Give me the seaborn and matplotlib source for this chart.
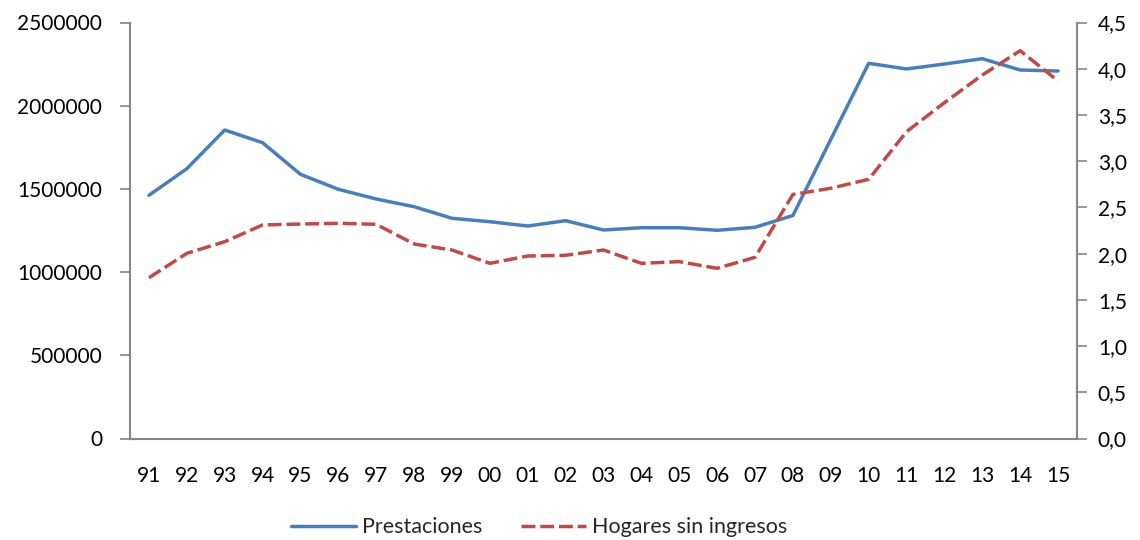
import matplotlib
matplotlib.use("Agg")
import matplotlib.pyplot as plt
import seaborn as sns
import pandas as pd
import numpy as np

years = ["91", "92", "93", "94", "95", "96", "97", "98", "99", "00", "01", "02", "03",
         "04", "05", "06", "07", "08", "09", "10", "11", "12", "13", "14", "15"]
prestaciones = [1461500, 1621400, 1854000, 1777600, 1587700, 1497600, 1439300, 1393000,
                1323300, 1302900, 1277000, 1308900, 1253000, 1266800, 1266800, 1251200,
                1269200, 1340100, 1797500, 2254800, 2220600, 2250600, 2282500, 2214500,
                2208500]
hogares = [1.739, 2.003, 2.129, 2.310, 2.320, 2.328, 2.317, 2.104, 2.039, 1.895, 1.974,
           1.982, 2.039, 1.895, 1.913, 1.841, 1.960, 2.640, 2.707, 2.804, 3.319, 3.633,
           3.932, 4.195, 3.867]
left_ticks = [0, 500000, 1000000, 1500000, 2000000, 2500000]
right_ticks = [0.0, 0.5, 1.0, 1.5, 2.0, 2.5, 3.0, 3.5, 4.0, 4.5]

sns.set_theme(style="white")
plt.rcParams['font.family'] = ['Lato', 'DejaVu Sans']

df = pd.DataFrame({"pos": np.arange(len(years)), "year": years,
                   "Prestaciones": prestaciones, "Hogares": hogares})

blue = "#4A7EBB"
red = "#BE4B48"
grey = "#868686"

fig = plt.figure(figsize=(11.4, 5.4), dpi=100)
ax = fig.add_axes([130/1140, 1-438.5/540, (1077-130)/1140, (438.5-22.5)/540])
ax2 = ax.twinx()

sns.lineplot(data=df, x="pos", y="Prestaciones", ax=ax, color=blue, linewidth=2.5,
             label="Prestaciones", legend=False)
sns.lineplot(data=df, x="pos", y="Hogares", ax=ax2, color=red, linewidth=2.5,
             label="Hogares sin ingresos", legend=False, dashes=False)
ax2.lines[0].set_dashes([4.0, 1.4])
ax2.lines[0].set_dash_capstyle("butt")

n = len(years)
ax.set_xlim(-0.5, n - 0.5)
ax.set_ylim(0, 2500000)
ax2.set_ylim(0, 4.5)

ax.set_xticks(np.arange(n))
ax.set_xticklabels(years)
ax.set_xticks(np.arange(n + 1) - 0.5, minor=True)
ax.tick_params(axis="x", which="major", length=0, pad=20, labelsize=15, colors="black")
ax.tick_params(axis="x", which="minor", length=7, width=1.2, color=grey, direction="out")

ax.set_yticks(left_ticks)
ax.set_yticklabels([str(v) for v in left_ticks])
ax.tick_params(axis="y", length=7, width=1.2, color=grey, direction="out", pad=13,
               labelsize=15, labelcolor="black", left=True)
ax2.set_yticks(right_ticks)
ax2.set_yticklabels([f"{v:.1f}".replace(".", ",") for v in right_ticks])
ax2.tick_params(axis="y", length=7, width=1.2, color=grey, direction="out", pad=8,
                labelsize=15, labelcolor="black", right=True)

for a in (ax, ax2):
    a.set_xlabel("")
    a.set_ylabel("")
    a.spines["top"].set_visible(False)
    for s in ("left", "right", "bottom"):
        a.spines[s].set_color(grey)
        a.spines[s].set_linewidth(1.5)
ax.spines["right"].set_visible(False)
ax2.spines["left"].set_visible(False)
ax2.spines["bottom"].set_visible(False)

handles = [ax.lines[0], ax2.lines[0]]
labels = ["Prestaciones", "Hogares sin ingresos"]
fig.legend(handles, labels, loc="center", bbox_to_anchor=(0.473, 0.024), ncol=2,
           frameon=False, fontsize=15.5, handlelength=3.0, handletextpad=0.3,
           columnspacing=1.8)

fig.savefig("out.png", dpi=100)
